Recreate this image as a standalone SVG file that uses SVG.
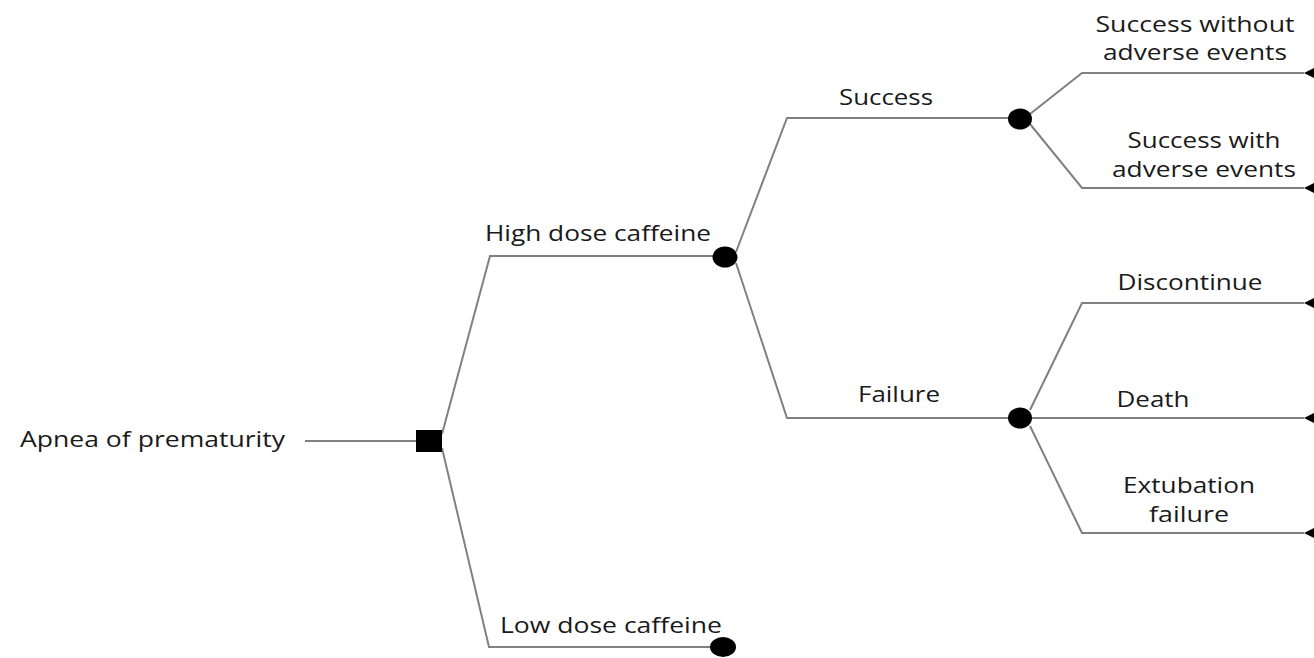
<svg xmlns="http://www.w3.org/2000/svg" width="1314" height="658" viewBox="0 0 1314 658">
<style>
text{font-family:"Open Sans","Noto Sans",sans-serif;font-size:21.5px;fill:#1a1a1a}
.m{text-anchor:middle}
.c{fill:none;stroke:#808080;stroke-width:2}
.n{fill:#000}
</style>
<defs>
<marker id="ah" viewBox="0 0 10 10" refX="0" refY="5" markerWidth="10" markerHeight="10" markerUnits="userSpaceOnUse" orient="auto">
<path d="M10,0 L0,5 L10,10 Z" fill="#000"/>
</marker>
</defs>
<g id="connectors">
<line class="c" x1="305" y1="441" x2="416" y2="441"/>
<polyline class="c" points="442,434 490,256 714,256"/>
<polyline class="c" points="442,448 489,647 712,647"/>
<polyline class="c" points="736,252 787,118 1008,118"/>
<polyline class="c" points="736,263 787,418 1008,418"/>
<polyline class="c" points="1030,114 1082,73 1304,73" marker-end="url(#ah)"/>
<polyline class="c" points="1030,124 1082,188 1304,188" marker-end="url(#ah)"/>
<polyline class="c" points="1030,410 1082,303 1304,303" marker-end="url(#ah)"/>
<line class="c" x1="1032" y1="418" x2="1304" y2="418" marker-end="url(#ah)"/>
<polyline class="c" points="1030,426 1082,533 1304,533" marker-end="url(#ah)"/>
</g>
<g id="root"><text x="20" y="447" textLength="265" lengthAdjust="spacingAndGlyphs">Apnea of prematurity</text></g>
<g id="decision"><rect class="n" x="416" y="430" width="26" height="22"/></g>
<g id="high"><text class="m" x="598" y="241" textLength="226" lengthAdjust="spacingAndGlyphs">High dose caffeine</text><ellipse class="n" cx="725" cy="257" rx="12.5" ry="10.5"/></g>
<g id="low"><text class="m" x="611" y="633" textLength="222" lengthAdjust="spacingAndGlyphs">Low dose caffeine</text><ellipse class="n" cx="723" cy="647" rx="13" ry="10"/></g>
<g id="success"><text class="m" x="886" y="105" textLength="94" lengthAdjust="spacingAndGlyphs">Success</text><ellipse class="n" cx="1020" cy="119" rx="12" ry="10.5"/></g>
<g id="failure"><text class="m" x="899" y="402" textLength="82" lengthAdjust="spacingAndGlyphs">Failure</text><ellipse class="n" cx="1020" cy="418" rx="12" ry="10.5"/></g>
<g id="s_no_ae"><text class="m" x="1195" y="32" textLength="199" lengthAdjust="spacingAndGlyphs">Success without</text><text class="m" x="1195" y="60" textLength="184" lengthAdjust="spacingAndGlyphs">adverse events</text></g>
<g id="s_ae"><text class="m" x="1204" y="148" textLength="153" lengthAdjust="spacingAndGlyphs">Success with</text><text class="m" x="1204" y="177" textLength="184" lengthAdjust="spacingAndGlyphs">adverse events</text></g>
<g id="discontinue"><text class="m" x="1190" y="290" textLength="145" lengthAdjust="spacingAndGlyphs">Discontinue</text></g>
<g id="death"><text class="m" x="1153" y="407" textLength="73" lengthAdjust="spacingAndGlyphs">Death</text></g>
<g id="extubation"><text class="m" x="1189" y="493" textLength="132" lengthAdjust="spacingAndGlyphs">Extubation</text><text class="m" x="1189" y="522" textLength="80" lengthAdjust="spacingAndGlyphs">failure</text></g>
</svg>
